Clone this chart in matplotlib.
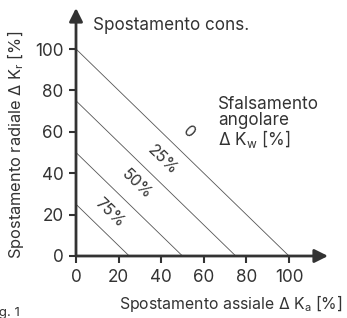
import matplotlib
matplotlib.use("Agg")
import matplotlib.pyplot as plt

plt.rcParams['font.family'] = ['Inter', 'DejaVu Sans']
plt.rcParams['mathtext.fontset'] = 'custom'
plt.rcParams['mathtext.rm'] = 'Inter'
plt.rcParams['mathtext.it'] = 'Inter'

# combined displacement lines: axial + radial = limit
limits = [100, 75, 50, 25]
line_labels = ['0', '25%', '50%', '75%']
label_x = [53, 40.5, 28.5, 16]
label_y = [60, 46.5, 34.5, 21]
ticks = [0, 20, 40, 60, 80, 100]

txt = '#333333'
W, H = 347, 318
fig = plt.figure(figsize=(W / 100, H / 100), dpi=100)
ax = fig.add_axes([76 / W, (H - 256) / H, (328 - 76) / W, (256 - 8) / H])
ax.set_xlim(0, 252 / 2.13)
ax.set_ylim(0, 248 / 2.07)

for lim in limits:
    ax.plot([0, lim], [lim, 0], color='#555555', lw=0.6)

for s, x, y in zip(line_labels, label_x, label_y):
    ax.text(x, y, s, rotation=-44, ha='center', va='center',
            rotation_mode='anchor', fontsize=11.5, color=txt)

for sp in ax.spines.values():
    sp.set_visible(False)

ax.annotate('', xy=(ax.get_xlim()[1], 0), xytext=(0, 0),
            arrowprops=dict(arrowstyle='-|>', lw=2, color=txt,
                            mutation_scale=20, shrinkA=0, shrinkB=0),
            annotation_clip=False)
ax.annotate('', xy=(0, ax.get_ylim()[1]), xytext=(0, 0),
            arrowprops=dict(arrowstyle='-|>', lw=2, color=txt,
                            mutation_scale=20, shrinkA=0, shrinkB=0),
            annotation_clip=False)

ax.set_xticks(ticks)
ax.set_yticks(ticks)
ax.tick_params(length=5, width=1.5, color=txt, labelcolor=txt,
               labelsize=12.3, pad=4)

fig.text(93 / W, 1 - 25 / H, 'Spostamento cons.', fontsize=12.3,
         color=txt, va='center', ha='left')
fig.text(218 / W, 1 - 96 / H, 'Sfalsamento\nangolare\n$\\Delta$ K$_\\mathrm{w}$ [%]',
         fontsize=12.3, color=txt, va='top', ha='left', linespacing=0.92)
fig.text(343 / W, 1 - 303 / H, 'Spostamento assiale $\\Delta$ K$_\\mathrm{a}$ [%]',
         fontsize=11.4, color=txt, va='center', ha='right')
fig.text(16 / W, 1 - 145 / H, 'Spostamento radiale $\\Delta$ K$_\\mathrm{r}$ [%]',
         fontsize=11.8, color=txt, va='center', ha='center', rotation=90)
fig.text(20 / W, 1 - 313 / H, 'Fig. 1', fontsize=9.5, color=txt,
         va='center', ha='right')

fig.savefig('out.png', dpi=100)
